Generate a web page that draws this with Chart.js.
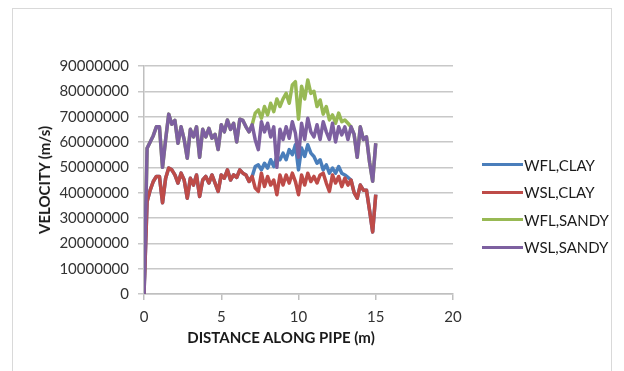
<!DOCTYPE html>
<html>
<head>
<meta charset="utf-8">
<script src="https://cdn.jsdelivr.net/npm/chart.js@4.4.1/dist/chart.umd.min.js"></script>
<style>
    html, body { margin: 0; padding: 0; background: #ffffff; }
    #wrap { position: relative; width: 624px; height: 371px; }
    #frame {
        position: absolute; left: 12px; top: 8px; width: 600px; height: 363px;
        border: 1px solid #d9d9d9; border-bottom: none; box-sizing: border-box;
    }
    #chart { position: absolute; left: 0; top: 0; }
    .axis-title {
        position: absolute; white-space: nowrap;
        font-family: Lato, "Liberation Sans", sans-serif; font-size: 15px; font-weight: bold;
        color: #1a1a1a; line-height: 18px;
    }
    #xTitle { left: 281px; top: 337px; transform: translate(-50%, -50%); }
    #yTitle { left: 44px; top: 180px; transform: translate(-50%, -50%) rotate(-90deg); }
    #legend {
        position: absolute; left: 482px; top: 151px;
        font-family: Lato, "Liberation Sans", sans-serif; font-size: 15px; color: #1a1a1a;
    }
    .item { display: flex; align-items: center; height: 27.5px; }
    .swatch { width: 41px; height: 3px; margin-right: 1px; }
</style>
</head>
<body>
<div id="wrap">
    <div id="frame"></div>
    <canvas id="chart" width="624" height="371"></canvas>
    <div id="xTitle" class="axis-title"></div>
    <div id="yTitle" class="axis-title"></div>
    <div id="legend"></div>
</div>
<script>
// distance along the pipe (m)
const distance = [
    0, 0.2, 0.4, 0.6, 0.8, 1.0, 1.2, 1.4, 1.6, 1.8,
    2.0, 2.2, 2.4, 2.6, 2.8, 3.0, 3.2, 3.4, 3.6, 3.8,
    4.0, 4.2, 4.4, 4.6, 4.8, 5.0, 5.2, 5.4, 5.6, 5.8,
    6.0, 6.2, 6.4, 6.6, 6.8, 7.0, 7.2, 7.4, 7.6, 7.8,
    8.0, 8.2, 8.4, 8.6, 8.8, 9.0, 9.2, 9.4, 9.6, 9.8,
    10.0, 10.2, 10.4, 10.6, 10.8, 11.0, 11.2, 11.4, 11.6, 11.8,
    12.0, 12.2, 12.4, 12.6, 12.8, 13.0, 13.2, 13.4, 13.6, 13.8,
    14.0, 14.2, 14.4, 14.6, 14.8, 15.0
];

// velocities in millions of m/s
const wslClay = [
    0, 36.5, 41, 44.4, 46.4, 46.4, 36, 45.7, 49.7, 49,
    47, 43.8, 47.7, 45, 37.8, 45.7, 43, 47, 38.5, 45,
    46.4, 43.8, 47, 43.8, 40.5, 47, 45.7, 49, 45, 47,
    46, 49, 47.7, 47, 44.4, 46.4, 41.8, 40.5, 47.7, 42.4,
    46.4, 43, 45, 39.2, 47, 43, 47, 43.8, 47.7, 44.4,
    39.2, 47, 43, 47.7, 44.4, 46.4, 43.8, 47, 47.7, 43.8,
    40.5, 47, 43.8, 46.4, 42.4, 45.7, 43, 45, 40, 37.8,
    43, 41, 41, 33, 24.5, 39.2
];

const wslSandy = [
    0, 57.5, 60, 62.5, 66, 66, 50, 61, 71, 67,
    68.5, 59.5, 66, 61, 53.6, 65, 62, 66, 54, 65,
    62, 65.4, 61.5, 63, 57, 66.8, 64, 68.7, 65, 67.4,
    60, 69, 68.5, 66, 64, 66.8, 60.8, 57, 68, 64,
    67.4, 62, 66, 50, 65, 61, 66, 61.5, 68, 63.5,
    54, 67.4, 61, 69.4, 64, 62, 66.8, 61, 68, 64,
    61, 67.4, 60, 66, 62.8, 66, 61, 66, 63, 54,
    66, 61, 62, 52, 44.5, 59.5
];

// the fixed-lining runs only split from the sliding ones between 7.2 m and 13.2 m
const splitFrom = 7.2;
const splitTo = 13.2;

const wflClayMid = [
    50.3, 51, 49, 51.6, 49.7, 53, 50.3, 54.3, 53, 55.6,
    53, 57, 55, 58.9, 49, 57.6, 54.3, 58.9, 55.6, 54.3,
    51.6, 53, 49, 51, 47.7, 49.7, 47.7, 50.3, 47.7, 47,
    46
];

const wflSandyMid = [
    71.4, 72.7, 69.4, 74, 70.7, 75.3, 72, 77, 74, 77,
    79.2, 75.3, 82.5, 83.8, 69, 82, 77, 84.5, 79.2, 80,
    74, 76.6, 71, 74, 68.7, 70.7, 67.4, 71.4, 68, 68.7,
    67.4
];

const seriesNames = ['WFL,CLAY', 'WSL,CLAY', 'WFL,SANDY', 'WSL,SANDY'];
const seriesColors = ['#4a7ebb', '#be4b48', '#98b954', '#7d60a0'];
const yTicks = [0, 10000000, 20000000, 30000000, 40000000, 50000000, 60000000, 70000000, 80000000, 90000000];
const xTicks = [0, 5, 10, 15, 20];
const xTitle = 'DISTANCE ALONG PIPE (m)';
const yTitle = 'VELOCITY (m/s)';

const FONT = 'Lato, "Liberation Sans", sans-serif';

function joinSplit(base, mid) {
    const a = distance.indexOf(splitFrom);
    const b = distance.indexOf(splitTo);
    return [...base.slice(0, a), ...mid, ...base.slice(b + 1)];
}

function toPoints(values) {
    return values.map((v, i) => ({ x: distance[i], y: v * 1e6 }));
}

const series = [
    joinSplit(wslClay, wflClayMid),
    wslClay,
    joinSplit(wslSandy, wflSandyMid),
    wslSandy
];

// sliding-lining lines sit on top of the fixed-lining ones where they coincide
const drawOrder = [1, 0, 1, -1];

const datasets = series.map((vals, i) => ({
    label: seriesNames[i],
    data: toPoints(vals),
    borderColor: seriesColors[i],
    backgroundColor: seriesColors[i],
    borderWidth: 3.5,
    borderJoinStyle: 'round',
    pointRadius: 0,
    tension: 0,
    order: drawOrder[i]
}));

new Chart(document.getElementById('chart'), {
    type: 'line',
    data: { datasets },
    options: {
        responsive: false,
        animation: false,
        events: [],
        layout: { padding: { top: 66, right: 171, bottom: 0, left: 0 } },
        plugins: { legend: { display: false }, tooltip: { enabled: false } },
        scales: {
            x: {
                type: 'linear',
                min: 0,
                max: 20,
                afterFit: (s) => { s.height = 77; },
                afterBuildTicks: (s) => { s.ticks = xTicks.map(v => ({ value: v })); },
                ticks: { color: '#333333', font: { family: FONT, size: 15 }, padding: 8 },
                grid: { drawOnChartArea: false, color: '#bfbfbf', lineWidth: 1.5, tickLength: 6 },
                border: { color: '#bfbfbf', width: 1.5 }
            },
            y: {
                min: 0,
                max: 90000000,
                afterFit: (s) => { s.width = 144; },
                afterBuildTicks: (s) => { s.ticks = yTicks.map(v => ({ value: v })); },
                ticks: {
                    color: '#333333',
                    font: { family: FONT, size: 15 },
                    padding: 9,
                    callback: (v) => String(v)
                },
                grid: { color: '#c8c8c8', lineWidth: 1.5, tickLength: 6 },
                border: { color: '#bfbfbf', width: 1.5 }
            }
        }
    }
});

document.getElementById('xTitle').textContent = xTitle;
document.getElementById('yTitle').textContent = yTitle;

// legend on the right, one row per series
const legend = document.getElementById('legend');
seriesNames.forEach((name, i) => {
    const row = document.createElement('div');
    row.className = 'item';
    const sw = document.createElement('span');
    sw.className = 'swatch';
    sw.style.background = seriesColors[i];
    const txt = document.createElement('span');
    txt.textContent = name;
    row.appendChild(sw);
    row.appendChild(txt);
    legend.appendChild(row);
});
</script>
</body>
</html>
